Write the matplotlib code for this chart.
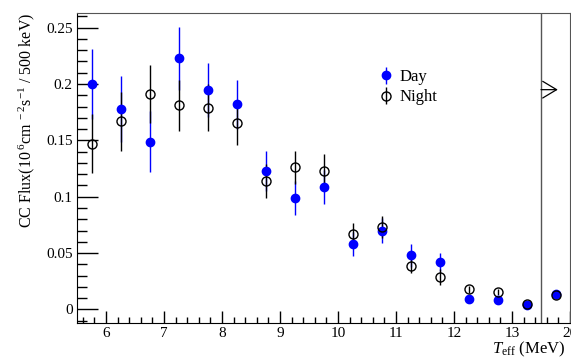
import numpy as np
import matplotlib
matplotlib.use("Agg")
import matplotlib.pyplot as plt
from matplotlib.ticker import MultipleLocator, FixedLocator

plt.rcParams['font.family'] = ['Liberation Serif', 'DejaVu Serif']
plt.rcParams['mathtext.fontset'] = 'custom'
plt.rcParams['mathtext.rm'] = 'Liberation Serif'
plt.rcParams['mathtext.it'] = 'Liberation Serif:italic'

# --- datos ---
energia = [5.75, 6.25, 6.75, 7.25, 7.75, 8.25, 8.75, 9.25, 9.75,
           10.25, 10.75, 11.25, 11.75, 12.25, 12.75, 13.25, 13.75]
flujo_dia = [0.200, 0.178, 0.149, 0.223, 0.195, 0.182, 0.123, 0.099, 0.109,
             0.058, 0.070, 0.048, 0.042, 0.009, 0.0085, 0.004, 0.014]
error_dia = [0.031, 0.029, 0.027, 0.028, 0.024, 0.022, 0.018, 0.015, 0.015,
             0.011, 0.011, 0.010, 0.008, 0.003, 0.003, 0.002, 0.003]
flujo_noche = [0.147, 0.167, 0.191, 0.181, 0.179, 0.165, 0.114, 0.126, 0.123,
               0.067, 0.073, 0.039, 0.029, 0.018, 0.0155, 0.0047, 0.0124]
error_noche = [0.026, 0.026, 0.026, 0.023, 0.021, 0.019, 0.015, 0.015, 0.015,
               0.010, 0.010, 0.007, 0.007, 0.003, 0.003, 0.002, 0.003]
ticks_x = [6, 7, 8, 9, 10, 11, 12, 13, 14]
etiquetas_x = ["6", "7", "8", "9", "10", "11", "12", "13", "20"]
ticks_y = [0, 0.05, 0.1, 0.15, 0.2, 0.25]
etiquetas_y = ["0", "0.05", "0.1", "0.15", "0.2", "0.25"]

fig = plt.figure(figsize=(5.71, 3.59), dpi=100)
ax = fig.add_axes([77/571, 1 - 323/359, 493/571, 310/359])

ax.errorbar(energia, flujo_dia, yerr=error_dia, fmt='o', color='#0000ff',
            ms=6, elinewidth=1, capsize=0, label='Day')
ax.errorbar(energia, flujo_noche, yerr=error_noche, fmt='o', color='black',
            mfc='none', mew=1, ms=6.5, elinewidth=1, capsize=0, label='Night')

# linea de separacion del ultimo bin y flecha
ax.axvline(13.5, color='#555555', lw=1)
ax.annotate("", xy=(13.79, 0.195), xytext=(13.5, 0.195),
            arrowprops=dict(arrowstyle='->,head_length=0.5,head_width=0.3',
                            color='black', lw=0.9, mutation_scale=20,
                            shrinkA=0, shrinkB=0))

ax.set_xlim(5.5, 14)
ax.set_ylim(-0.012, 0.263)
ax.xaxis.set_major_locator(FixedLocator(ticks_x))
ax.set_xticklabels(etiquetas_x)
ax.xaxis.set_minor_locator(MultipleLocator(0.2))
ax.set_yticks(ticks_y)
ax.set_yticklabels(etiquetas_y)
ax.yaxis.set_minor_locator(MultipleLocator(0.01))

ax.tick_params(axis='y', which='major', direction='in', length=15, width=1,
               labelsize=11, pad=3, right=False)
ax.tick_params(axis='y', which='minor', direction='in', length=7.5, width=1,
               right=False)
ax.tick_params(axis='x', which='major', direction='in', length=9, width=1,
               labelsize=11, pad=3, top=False)
ax.tick_params(axis='x', which='minor', direction='in', length=4.5, width=1,
               top=False)

for lado in ['top', 'right']:
    ax.spines[lado].set_color('#555555')
for lado in ['left', 'bottom']:
    ax.spines[lado].set_color('black')

ax.set_ylabel(r"CC Flux(10$^{\ 6}$cm$^{\ -2}$s$^{-1}$ / 500 keV)",
              fontsize=11.5, loc='top')
ax.yaxis.set_label_coords(-0.082, 1.0)
ax.set_xlabel(r"$T_{\mathrm{eff}}$ (MeV)", fontsize=12, loc='right')
ax.xaxis.set_label_coords(0.99, -0.055)

ax.legend(loc='upper left', bbox_to_anchor=(0.6, 0.84), frameon=False,
          fontsize=12, handlelength=0.8, handletextpad=0.4,
          labelspacing=0.25, borderaxespad=0)

fig.savefig("out.png", dpi=100)
